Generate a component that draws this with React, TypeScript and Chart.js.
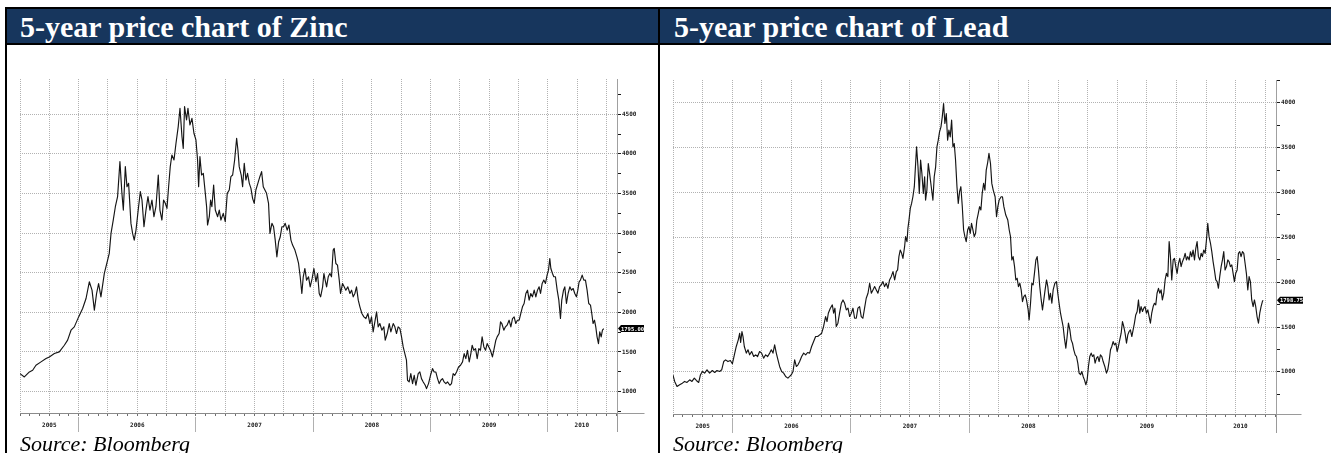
import React, { useEffect, useRef } from 'react';
import { Chart, registerables } from 'chart.js';

Chart.register(...registerables);

// ---------------- data ----------------
const zincDates = [
  2005.500, 2005.537, 2005.580, 2005.608, 2005.636, 2005.679, 2005.722, 2005.750, 2005.793, 2005.835,
  2005.878, 2005.906, 2005.935, 2005.963, 2006.000, 2006.034, 2006.063, 2006.091, 2006.114, 2006.134,
  2006.153, 2006.170, 2006.190, 2006.219, 2006.247, 2006.261, 2006.276, 2006.295, 2006.313, 2006.332,
  2006.352, 2006.369, 2006.381, 2006.398, 2006.412, 2006.426, 2006.446, 2006.460, 2006.474, 2006.489,
  2006.511, 2006.526, 2006.540, 2006.557, 2006.574, 2006.591, 2006.608, 2006.625, 2006.642, 2006.659,
  2006.679, 2006.693, 2006.710, 2006.724, 2006.739, 2006.753, 2006.767, 2006.781, 2006.795, 2006.813,
  2006.830, 2006.849, 2006.864, 2006.881, 2006.892, 2006.903, 2006.920, 2006.932, 2006.949, 2006.966,
  2006.983, 2007.000, 2007.014, 2007.023, 2007.034, 2007.048, 2007.063, 2007.080, 2007.091, 2007.099,
  2007.114, 2007.125, 2007.136, 2007.151, 2007.165, 2007.185, 2007.199, 2007.213, 2007.233, 2007.250,
  2007.267, 2007.284, 2007.298, 2007.313, 2007.330, 2007.347, 2007.358, 2007.369, 2007.386, 2007.398,
  2007.412, 2007.426, 2007.440, 2007.455, 2007.469, 2007.483, 2007.497, 2007.511, 2007.528, 2007.545,
  2007.560, 2007.574, 2007.588, 2007.602, 2007.619, 2007.631, 2007.648, 2007.662, 2007.676, 2007.690,
  2007.705, 2007.719, 2007.733, 2007.747, 2007.761, 2007.778, 2007.793, 2007.810, 2007.824, 2007.844,
  2007.861, 2007.875, 2007.889, 2007.903, 2007.915, 2007.929, 2007.943, 2007.960, 2007.974, 2007.991,
  2008.006, 2008.023, 2008.037, 2008.051, 2008.063, 2008.080, 2008.091, 2008.102, 2008.114, 2008.128,
  2008.142, 2008.156, 2008.170, 2008.179, 2008.193, 2008.207, 2008.222, 2008.233, 2008.250, 2008.264,
  2008.278, 2008.295, 2008.313, 2008.327, 2008.341, 2008.355, 2008.369, 2008.384, 2008.398, 2008.415,
  2008.432, 2008.449, 2008.466, 2008.483, 2008.497, 2008.511, 2008.528, 2008.540, 2008.554, 2008.568,
  2008.585, 2008.602, 2008.614, 2008.631, 2008.648, 2008.662, 2008.682, 2008.696, 2008.710, 2008.724,
  2008.739, 2008.753, 2008.767, 2008.781, 2008.795, 2008.804, 2008.818, 2008.832, 2008.847, 2008.861,
  2008.875, 2008.895, 2008.909, 2008.923, 2008.938, 2008.955, 2008.966, 2008.983, 2009.000, 2009.017,
  2009.031, 2009.045, 2009.060, 2009.074, 2009.088, 2009.102, 2009.116, 2009.131, 2009.145, 2009.165,
  2009.179, 2009.193, 2009.207, 2009.222, 2009.239, 2009.256, 2009.273, 2009.287, 2009.301, 2009.315,
  2009.330, 2009.344, 2009.355, 2009.369, 2009.384, 2009.398, 2009.412, 2009.426, 2009.440, 2009.455,
  2009.469, 2009.483, 2009.497, 2009.511, 2009.528, 2009.540, 2009.557, 2009.568, 2009.585, 2009.597,
  2009.608, 2009.625, 2009.639, 2009.653, 2009.670, 2009.685, 2009.699, 2009.713, 2009.727, 2009.741,
  2009.756, 2009.770, 2009.784, 2009.798, 2009.813, 2009.827, 2009.841, 2009.855, 2009.869, 2009.884,
  2009.898, 2009.912, 2009.926, 2009.938, 2009.952, 2009.966, 2009.980, 2009.994, 2010.006, 2010.017,
  2010.026, 2010.040, 2010.051, 2010.065, 2010.080, 2010.094, 2010.108, 2010.119, 2010.134, 2010.145,
  2010.159, 2010.173, 2010.188, 2010.202, 2010.216, 2010.230, 2010.244, 2010.256, 2010.267, 2010.278,
  2010.293, 2010.307, 2010.321, 2010.335, 2010.349, 2010.364, 2010.375, 2010.386, 2010.398, 2010.409,
  2010.420, 2010.432, 2010.443, 2010.455, 2010.466, 2010.477,
];

const zincPrices = [
  1227, 1185, 1248, 1270, 1333, 1375, 1417, 1438, 1480, 1501,
  1585, 1649, 1775, 1817, 1943, 2049, 2175, 2386, 2280, 2028,
  2238, 2364, 2196, 2491, 2659, 2744, 2996, 3165, 3333, 3460,
  3902, 3502, 3291, 3839, 3586, 3628, 3123, 2996, 2912, 3038,
  3333, 3523, 3418, 3081, 3291, 3460, 3291, 3418, 3207, 3333,
  3733, 3291, 3165, 3418, 3376, 3312, 3586, 3839, 3986, 3923,
  4134, 4344, 4576, 4218, 4070, 4597, 4428, 4576, 4365, 4449,
  4260, 4176, 3923, 3586, 3965, 3733, 3754, 3502, 3333, 3102,
  3207, 3418, 3333, 3607, 3291, 3207, 3291, 3165, 3249, 3144,
  3502, 3544, 3712, 3733, 3923, 4197, 4049, 3839, 3733, 3586,
  3881, 3670, 3754, 3628, 3565, 3439, 3376, 3544, 3628, 3712,
  3776, 3586, 3544, 3502, 3376, 2996, 3123, 3081, 2912, 2701,
  2891, 2954, 3081, 3081, 3123, 3038, 3102, 2912, 2849, 2786,
  2701, 2617, 2449, 2238, 2449, 2554, 2407, 2449, 2322, 2428,
  2554, 2386, 2491, 2238, 2196, 2322, 2491, 2407, 2322, 2449,
  2491, 2449, 2786, 2807, 2617, 2596, 2407, 2238, 2365, 2322,
  2280, 2322, 2238, 2280, 2196, 2238, 2322, 2154, 2070, 1986,
  1943, 1922, 1986, 1859, 1943, 1754, 1901, 2007, 1817, 1859,
  1775, 1817, 1649, 1733, 1859, 1754, 1859, 1817, 1733, 1817,
  1796, 1691, 1564, 1480, 1396, 1143, 1122, 1227, 1101, 1206,
  1080, 1227, 1248, 1164, 1122, 1080, 1038, 1101, 1206, 1290,
  1248, 1248, 1164, 1101, 1143, 1164, 1122, 1101, 1122, 1080,
  1101, 1227, 1206, 1248, 1311, 1333, 1375, 1480, 1417, 1522,
  1375, 1480, 1585, 1522, 1543, 1417, 1543, 1522, 1691, 1564,
  1522, 1606, 1564, 1522, 1438, 1522, 1649, 1691, 1733, 1880,
  1859, 1775, 1817, 1838, 1901, 1817, 1922, 1943, 1859, 1901,
  1901, 1986, 2070, 2112, 2238, 2280, 2154, 2238, 2196, 2280,
  2196, 2280, 2322, 2238, 2365, 2407, 2365, 2470, 2533, 2680,
  2554, 2491, 2449, 2449, 2280, 2154, 1922, 2154, 2280, 2322,
  2112, 2238, 2322, 2280, 2301, 2238, 2196, 2280, 2386, 2407,
  2470, 2407, 2407, 2280, 2112, 2091, 1986, 1859, 1901, 1817,
  1691, 1606, 1754, 1691, 1775, 1795,
];

const leadDates = [
  2005.500, 2005.514, 2005.534, 2005.556, 2005.579, 2005.598, 2005.618, 2005.641, 2005.660, 2005.680,
  2005.697, 2005.717, 2005.731, 2005.748, 2005.767, 2005.787, 2005.809, 2005.832, 2005.852, 2005.871,
  2005.894, 2005.911, 2005.928, 2005.944, 2005.964, 2005.984, 2006.001, 2006.018, 2006.034, 2006.051,
  2006.063, 2006.071, 2006.082, 2006.091, 2006.102, 2006.119, 2006.133, 2006.147, 2006.164, 2006.181,
  2006.198, 2006.214, 2006.231, 2006.248, 2006.265, 2006.282, 2006.299, 2006.316, 2006.330, 2006.344,
  2006.358, 2006.372, 2006.386, 2006.400, 2006.417, 2006.434, 2006.451, 2006.470, 2006.485, 2006.499,
  2006.513, 2006.527, 2006.541, 2006.555, 2006.569, 2006.586, 2006.603, 2006.620, 2006.636, 2006.653,
  2006.670, 2006.687, 2006.704, 2006.721, 2006.738, 2006.755, 2006.771, 2006.788, 2006.800, 2006.811,
  2006.828, 2006.845, 2006.856, 2006.867, 2006.878, 2006.892, 2006.906, 2006.921, 2006.935, 2006.949,
  2006.963, 2006.977, 2006.991, 2007.005, 2007.019, 2007.033, 2007.047, 2007.061, 2007.075, 2007.089,
  2007.103, 2007.117, 2007.131, 2007.146, 2007.160, 2007.174, 2007.188, 2007.202, 2007.216, 2007.230,
  2007.244, 2007.258, 2007.272, 2007.286, 2007.300, 2007.314, 2007.328, 2007.342, 2007.357, 2007.371,
  2007.385, 2007.396, 2007.407, 2007.418, 2007.430, 2007.441, 2007.455, 2007.463, 2007.475, 2007.483,
  2007.492, 2007.503, 2007.514, 2007.525, 2007.537, 2007.548, 2007.556, 2007.568, 2007.579, 2007.590,
  2007.601, 2007.613, 2007.624, 2007.632, 2007.643, 2007.655, 2007.666, 2007.680, 2007.694, 2007.705,
  2007.717, 2007.728, 2007.739, 2007.750, 2007.762, 2007.773, 2007.784, 2007.795, 2007.807, 2007.818,
  2007.829, 2007.840, 2007.852, 2007.863, 2007.874, 2007.885, 2007.897, 2007.908, 2007.919, 2007.930,
  2007.942, 2007.953, 2007.964, 2007.975, 2007.987, 2007.998, 2008.009, 2008.020, 2008.032, 2008.043,
  2008.054, 2008.065, 2008.077, 2008.088, 2008.099, 2008.110, 2008.122, 2008.133, 2008.144, 2008.155,
  2008.167, 2008.180, 2008.191, 2008.203, 2008.219, 2008.231, 2008.242, 2008.253, 2008.270, 2008.281,
  2008.293, 2008.309, 2008.326, 2008.338, 2008.349, 2008.360, 2008.371, 2008.383, 2008.394, 2008.405,
  2008.416, 2008.428, 2008.439, 2008.450, 2008.461, 2008.473, 2008.484, 2008.498, 2008.506, 2008.518,
  2008.529, 2008.540, 2008.551, 2008.563, 2008.574, 2008.585, 2008.596, 2008.608, 2008.619, 2008.630,
  2008.641, 2008.653, 2008.664, 2008.675, 2008.686, 2008.698, 2008.709, 2008.723, 2008.737, 2008.748,
  2008.759, 2008.771, 2008.782, 2008.793, 2008.804, 2008.816, 2008.827, 2008.838, 2008.850, 2008.861,
  2008.872, 2008.883, 2008.895, 2008.906, 2008.917, 2008.928, 2008.940, 2008.951, 2008.962, 2008.973,
  2008.985, 2008.996, 2009.007, 2009.018, 2009.030, 2009.041, 2009.052, 2009.063, 2009.075, 2009.086,
  2009.097, 2009.108, 2009.120, 2009.131, 2009.145, 2009.159, 2009.170, 2009.181, 2009.193, 2009.204,
  2009.215, 2009.226, 2009.238, 2009.249, 2009.260, 2009.271, 2009.283, 2009.294, 2009.305, 2009.316,
  2009.328, 2009.339, 2009.350, 2009.361, 2009.373, 2009.384, 2009.395, 2009.406, 2009.418, 2009.429,
  2009.440, 2009.451, 2009.463, 2009.474, 2009.485, 2009.496, 2009.508, 2009.519, 2009.530, 2009.541,
  2009.553, 2009.564, 2009.575, 2009.586, 2009.598, 2009.609, 2009.620, 2009.631, 2009.643, 2009.654,
  2009.665, 2009.677, 2009.688, 2009.699, 2009.710, 2009.722, 2009.733, 2009.744, 2009.755, 2009.767,
  2009.778, 2009.789, 2009.800, 2009.812, 2009.823, 2009.834, 2009.845, 2009.857, 2009.868, 2009.879,
  2009.890, 2009.902, 2009.913, 2009.924, 2009.935, 2009.947, 2009.958, 2009.969, 2009.980, 2009.992,
  2010.003, 2010.014, 2010.025, 2010.037, 2010.048, 2010.059, 2010.070, 2010.082, 2010.093, 2010.104,
  2010.115, 2010.127, 2010.138, 2010.149, 2010.160, 2010.172, 2010.183, 2010.194, 2010.205, 2010.217,
  2010.228, 2010.239, 2010.250, 2010.262, 2010.273, 2010.284, 2010.295, 2010.307, 2010.318, 2010.329,
  2010.340, 2010.352, 2010.363, 2010.374, 2010.385, 2010.397, 2010.408, 2010.419, 2010.430, 2010.442,
  2010.453, 2010.464, 2010.475, 2010.481,
];

const leadPrices = [
  964, 893, 837, 856, 874, 893, 882, 911, 893, 930,
  904, 882, 964, 1004, 986, 1023, 986, 1015, 993, 1015,
  1004, 1023, 1115, 1134, 1115, 1126, 1090, 1190, 1283, 1357,
  1431, 1327, 1450, 1394, 1283, 1209, 1246, 1190, 1227, 1171,
  1190, 1171, 1227, 1209, 1153, 1190, 1171, 1209, 1246, 1209,
  1301, 1209, 1134, 1060, 1004, 986, 949, 930, 949, 968,
  1004, 1134, 1060, 1078, 1115, 1171, 1209, 1190, 1216, 1209,
  1283, 1338, 1394, 1394, 1413, 1431, 1506, 1617, 1561, 1654,
  1710, 1747, 1654, 1710, 1506, 1543, 1654, 1765, 1802, 1765,
  1691, 1710, 1617, 1654, 1710, 1598, 1598, 1710, 1728, 1617,
  1598, 1710, 1821, 1877, 1988, 1877, 1914, 1951, 1914, 1877,
  1951, 1970, 2007, 1951, 1988, 1932, 2025, 2062, 2118, 2025,
  2118, 2137, 2285, 2359, 2322, 2266, 2396, 2508, 2452, 2600,
  2693, 2823, 2879, 2953, 3065, 3324, 3510, 3287, 2990, 3362,
  3213, 2990, 3176, 2916, 3027, 3324, 3213, 3065, 2916, 3176,
  3287, 3510, 3584, 3677, 3733, 3844, 3993, 3770, 3881, 3584,
  3696, 3621, 3807, 3510, 3547, 3362, 3065, 2879, 3009, 3065,
  2842, 2582, 2508, 2452, 2582, 2619, 2545, 2656, 2582, 2508,
  2545, 2693, 2768, 2842, 2805, 2990, 3102, 3027, 3250, 3324,
  3436, 3324, 3102, 3027, 2953, 2730, 2842, 2916, 2953, 2953,
  2842, 2749, 2693, 2582, 2508, 2248, 2285, 2174, 2025, 2044,
  1951, 1988, 1914, 1784, 1840, 1858, 1802, 1691, 1580, 1765,
  1988, 1970, 2099, 2248, 2285, 2137, 1951, 1802, 1691, 1802,
  1914, 2025, 1951, 1802, 1877, 1765, 1914, 1988, 2007, 1877,
  1765, 1654, 1580, 1506, 1376, 1264, 1394, 1543, 1468, 1357,
  1320, 1246, 1190, 1171, 1097, 986, 968, 1004, 949, 911,
  856, 911, 1060, 1171, 1209, 1171, 1190, 1097, 1153, 1171,
  1115, 1190, 1171, 1115, 1060, 986, 1023, 1115, 1246, 1283,
  1338, 1301, 1320, 1227, 1283, 1357, 1431, 1561, 1506, 1431,
  1320, 1412, 1450, 1468, 1394, 1468, 1543, 1635, 1673, 1802,
  1654, 1728, 1673, 1710, 1728, 1654, 1691, 1617, 1543, 1654,
  1728, 1765, 1747, 1877, 1932, 1877, 1914, 1802, 1877, 2025,
  2099, 2062, 2452, 2285, 2025, 2248, 2266, 2174, 2099, 2211,
  2266, 2174, 2229, 2266, 2322, 2248, 2285, 2248, 2340, 2285,
  2359, 2248, 2378, 2452, 2285, 2248, 2322, 2285, 2359, 2322,
  2471, 2656, 2508, 2434, 2341, 2229, 2137, 2025, 2007, 1932,
  2062, 2174, 2248, 2341, 2137, 2174, 2248, 2229, 2174, 2192,
  2099, 2007, 2099, 2137, 2322, 2341, 2285, 2341, 2322, 2211,
  2099, 1914, 2062, 2007, 1802, 1728, 1802, 1728, 1617, 1543,
  1654, 1728, 1784, 1798.75,
];

// axis values / tick labels
const xStart = 2005.5;
const xEnd = 2010.59;
const yearLabels = ['2005', '2006', '2007', '2008', '2009', '2010'];
const yearLabelAt = [2005.75, 2006.5, 2007.5, 2008.5, 2009.5, 2010.29];
const yearBreaks = [2006, 2007, 2008, 2009, 2010];
const zincYTicks = [750, 1000, 1250, 1500, 1750, 2000, 2250, 2500, 2750, 3000, 3250, 3500, 3750, 4000, 4250, 4500, 4750];
const leadYTicks = [750, 1000, 1250, 1500, 1750, 2000, 2250, 2500, 2750, 3000, 3250, 3500, 3750, 4000, 4250];
const zincYRange = [730, 4945];
const leadYRange = [530, 4255];

const titles = ['5-year price chart of Zinc', '5-year price chart of Lead'];
const sourceText = 'Source: Bloomberg';

// ---------------- styling ----------------
const NAVY = '#17365d';
const GRID = '#b2b2b2';
const CLEAR = 'rgba(0,0,0,0)';
const TICK_FONT = { family: '"DejaVu Sans Mono", monospace', size: 6, weight: 'bold' as const };

const monthTicks: number[] = [];
for (let k = 0; xStart + k / 12 <= xEnd + 1e-9; k++) monthTicks.push(xStart + k / 12);
const yearTickValues = [...yearLabelAt, ...yearBreaks].sort((a, b) => a - b);

const priceTagPlugin = {
  id: 'priceTag',
  afterDraw(chart: any, _args: any, opts: any) {
    const { ctx, chartArea } = chart;
    const yScale = chart.scales.y;
    ctx.save();
    ctx.strokeStyle = '#9a9a9a';
    ctx.lineWidth = 1;
    ctx.beginPath();
    const rx = Math.round(chartArea.right) + 0.5;
    const by = Math.round(chartArea.bottom) + 0.5;
    ctx.moveTo(rx, by);
    ctx.lineTo(rx + opts.extendRight, by);
    ctx.moveTo(rx, chartArea.bottom);
    ctx.lineTo(rx, chartArea.bottom + 19);
    ctx.stroke();

    const y = yScale.getPixelForValue(opts.value);
    const x = chartArea.right + 1;
    const w = opts.boxWidth;
    ctx.fillStyle = '#000';
    ctx.beginPath();
    ctx.moveTo(x, y);
    ctx.lineTo(x + 3, y - 3.5);
    ctx.lineTo(x + w, y - 3.5);
    ctx.lineTo(x + w, y + 3.5);
    ctx.lineTo(x + 3, y + 3.5);
    ctx.closePath();
    ctx.fill();
    ctx.fillStyle = '#fff';
    ctx.font = 'bold 5.5px "DejaVu Sans Mono", monospace';
    ctx.textBaseline = 'middle';
    ctx.textAlign = 'left';
    ctx.fillText(opts.text, x + 3, y + 0.5);
    ctx.restore();
  },
};

type PanelProps = {
  dates: number[];
  prices: number[];
  yRange: number[];
  yTicks: number[];
  width: number;
  height: number;
  padTop: number;
  padLeft: number;
  axisW: number;
  yearH: number;
  tagW: number;
  extendRight: number;
};

function PricePanel(p: PanelProps) {
  const ref = useRef<HTMLCanvasElement | null>(null);
  useEffect(() => {
    if (!ref.current) return;
    const n = Math.min(p.dates.length, p.prices.length);
    const points = [];
    for (let i = 0; i < n; i++) points.push({ x: p.dates[i], y: p.prices[i] });
    const last = p.prices[n - 1];
    const chart = new Chart(ref.current, {
      type: 'line',
      data: {
        datasets: [
          {
            data: points,
            borderColor: '#151515',
            borderWidth: 1.15,
            borderJoinStyle: 'round',
            pointRadius: 0,
            tension: 0,
            fill: false,
          },
        ],
      },
      options: {
        animation: false,
        responsive: false,
        maintainAspectRatio: false,
        devicePixelRatio: 1,
        events: [],
        layout: { padding: { left: p.padLeft, top: p.padTop, right: 0, bottom: 0 } },
        plugins: {
          legend: { display: false },
          tooltip: { enabled: false },
          priceTag: { value: last, text: last.toFixed(2), boxWidth: p.tagW, extendRight: p.extendRight },
        } as any,
        scales: {
          x: {
            type: 'linear',
            position: 'bottom',
            weight: 0,
            min: xStart,
            max: xEnd,
            bounds: 'data',
            afterBuildTicks: (s: any) => {
              s.ticks = monthTicks.map((v) => ({ value: v }));
            },
            afterFit: (s: any) => {
              s.height = 4;
            },
            grid: {
              display: true,
              drawOnChartArea: true,
              drawTicks: true,
              tickLength: 3,
              lineWidth: 1,
              tickWidth: 1,
              color: (c: any) => (c.index % 3 === 0 ? GRID : CLEAR),
              tickColor: '#707070',
            },
            border: { display: true, color: '#8a8a8a', width: 1, dash: [1, 1] },
            ticks: { display: false },
          },
          xYear: {
            type: 'linear',
            position: 'bottom',
            weight: 1,
            min: xStart,
            max: xEnd,
            bounds: 'data',
            afterBuildTicks: (s: any) => {
              s.ticks = yearTickValues.map((v) => ({ value: v }));
            },
            afterFit: (s: any) => {
              s.height = p.yearH;
            },
            grid: {
              display: true,
              drawOnChartArea: false,
              drawTicks: true,
              tickLength: 15,
              color: CLEAR,
              tickColor: (c: any) => (c.tick && yearBreaks.includes(c.tick.value) ? '#b0b0b0' : CLEAR),
            },
            border: { display: false },
            ticks: {
              autoSkip: false,
              maxRotation: 0,
              minRotation: 0,
              padding: -10,
              color: '#222',
              font: TICK_FONT,
              callback: (v: any) => {
                const i = yearLabelAt.indexOf(Number(v));
                return i >= 0 ? yearLabels[i] : '';
              },
            },
          },
          y: {
            type: 'linear',
            position: 'right',
            min: p.yRange[0],
            max: p.yRange[1],
            bounds: 'data',
            afterBuildTicks: (s: any) => {
              s.ticks = p.yTicks.map((v) => ({ value: v }));
            },
            afterFit: (s: any) => {
              s.width = p.axisW;
            },
            grid: {
              display: true,
              drawOnChartArea: true,
              drawTicks: true,
              tickLength: 4,
              lineWidth: 1,
              tickWidth: 1,
              color: (c: any) => (c.tick && c.tick.value % 500 === 0 ? GRID : CLEAR),
              tickColor: '#1a1a1a',
            },
            border: { display: true, color: '#a0a0a0', width: 1, dash: [1, 1] },
            ticks: {
              autoSkip: false,
              padding: 1,
              color: '#222',
              font: TICK_FONT,
              callback: (v: any) => (Number(v) % 500 === 0 ? String(v) : ''),
            },
          },
        },
      } as any,
      plugins: [priceTagPlugin as any],
    });
    return () => chart.destroy();
  }, []);
  return (
    <canvas
      ref={ref}
      width={p.width}
      height={p.height}
      style={{ display: 'block', width: p.width, height: p.height }}
    />
  );
}

const serif = '"Liberation Serif", "Times New Roman", serif';

function Header({ left, width, text, padLeft }: { left: number; width: number; text: string; padLeft: number }) {
  return (
    <div
      style={{
        position: 'absolute',
        left,
        top: 9,
        width,
        height: 34,
        background: NAVY,
        color: '#fff',
        fontFamily: serif,
        fontWeight: 700,
        fontSize: 30,
        lineHeight: '36px',
        paddingLeft: padLeft,
        boxSizing: 'border-box',
        whiteSpace: 'nowrap',
        overflow: 'hidden',
      }}
    >
      {text}
    </div>
  );
}

function Line({ left, top, width, height }: { left: number; top: number; width: number; height: number }) {
  return <div style={{ position: 'absolute', left, top, width, height, background: '#000' }} />;
}

export default function App() {
  return (
    <div
      style={{
        position: 'absolute',
        left: 0,
        top: 0,
        width: 1331,
        height: 453,
        overflow: 'hidden',
        background: '#fff',
      }}
    >
      <Header left={7} width={651} text={titles[0]} padLeft={13} />
      <Header left={660} width={671} text={titles[1]} padLeft={14} />
      <Line left={5} top={7} width={1326} height={2} />
      <Line left={5} top={43} width={1326} height={2} />
      <Line left={5} top={7} width={2} height={446} />
      <Line left={658} top={7} width={2} height={446} />

      <div style={{ position: 'absolute', left: 7, top: 45 }}>
        <PricePanel
          dates={zincDates}
          prices={zincPrices}
          yRange={zincYRange}
          yTicks={zincYTicks}
          width={651}
          height={400}
          padTop={34}
          padLeft={13}
          axisW={41}
          yearH={28}
          tagW={26}
          extendRight={27}
        />
      </div>
      <div style={{ position: 'absolute', left: 660, top: 45 }}>
        <PricePanel
          dates={leadDates}
          prices={leadPrices}
          yRange={leadYRange}
          yTicks={leadYTicks}
          width={671}
          height={400}
          padTop={35}
          padLeft={13}
          axisW={55}
          yearH={27}
          tagW={26}
          extendRight={25}
        />
      </div>

      <div
        style={{
          position: 'absolute',
          left: 20,
          top: 433,
          fontFamily: serif,
          fontStyle: 'italic',
          fontSize: 22,
          lineHeight: '22px',
          color: '#000',
          whiteSpace: 'nowrap',
        }}
      >
        {sourceText}
      </div>
      <div
        style={{
          position: 'absolute',
          left: 673,
          top: 433,
          fontFamily: serif,
          fontStyle: 'italic',
          fontSize: 22,
          lineHeight: '22px',
          color: '#000',
          whiteSpace: 'nowrap',
        }}
      >
        {sourceText}
      </div>
    </div>
  );
}
